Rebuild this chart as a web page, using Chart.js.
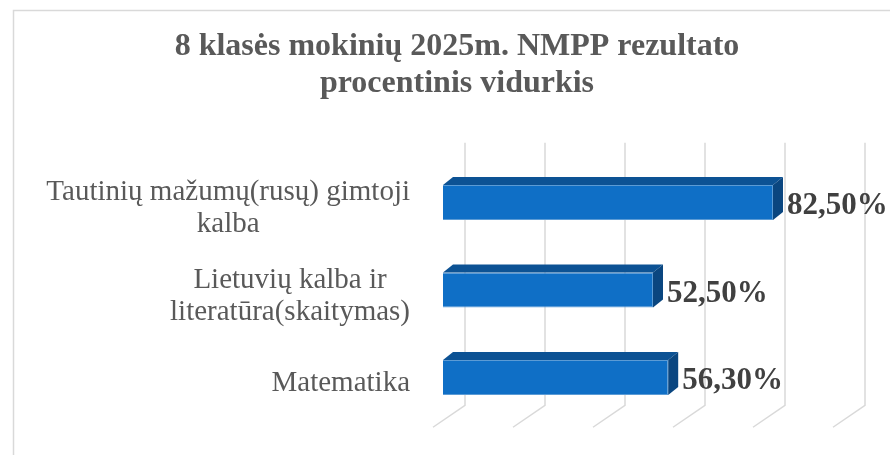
<!DOCTYPE html>
<html><head><meta charset="utf-8">
<script src="https://cdn.jsdelivr.net/npm/chart.js@4/dist/chart.umd.min.js"></script>
<style>html,body{margin:0;padding:0;background:#fff;}#wrap{width:890px;height:455px;position:relative;}</style>
</head><body><div id="wrap"><canvas id="c" width="890" height="455"></canvas></div>
<script>
const titleLines = ['8 klasės mokinių 2025m. NMPP rezultato', 'procentinis vidurkis'];
const categories = [['Tautinių mažumų(rusų) gimtoji', 'kalba'], ['Lietuvių kalba ir', 'literatūra(skaitymas)'], ['Matematika']];
const values = [82.5, 52.5, 56.3];
const valueLabels = ['82,50%', '52,50%', '56,30%'];
const xTicks = [0, 20, 40, 60, 80, 100];

const SERIF = "'Liberation Serif', 'Times New Roman', serif";
const DX = 10, DY = 8;          // bar depth
const WX = 22, WY = 16;         // back wall offset
const FX = -32, FY = 22;        // floor slant
const LABEL_GAP = 33, LABEL_LH = 32, LABEL_DY = 6;

const deco = {
  id: 'deco',
  beforeDraw(chart) {
    const ctx = chart.ctx;
    ctx.save();
    ctx.fillStyle = '#fff';
    ctx.fillRect(0, 0, chart.width, chart.height);
    ctx.strokeStyle = '#d9d9d9';
    ctx.lineWidth = 1.5;
    ctx.strokeRect(13.5, 10.5, chart.width + 20, chart.height + 20);
    ctx.restore();
  },
  beforeDatasetsDraw(chart) {
    const ctx = chart.ctx, xs = chart.scales.x, ys = chart.scales.y, a = chart.chartArea;
    ctx.save();
    ctx.strokeStyle = '#d9d9d9';
    ctx.lineWidth = 1.5;
    xTicks.forEach(v => {
      const xb = xs.getPixelForValue(v) + WX;
      const top = a.top - WY, bot = a.bottom - WY;
      ctx.beginPath();
      ctx.moveTo(xb, top);
      ctx.lineTo(xb, bot);
      ctx.lineTo(xb + FX, bot + FY);
      ctx.stroke();
    });
    // category labels: block right-aligned, lines centred within block
    ctx.font = '29px ' + SERIF;
    ctx.fillStyle = '#595959';
    ctx.textAlign = 'center';
    ctx.textBaseline = 'middle';
    const right = a.left - LABEL_GAP;
    categories.forEach((lines, i) => {
      const widest = Math.max(...lines.map(t => ctx.measureText(t).width));
      const cx = right - widest / 2;
      const cy = ys.getPixelForValue(i) + LABEL_DY;
      const y0 = cy - (lines.length - 1) * LABEL_LH / 2;
      lines.forEach((t, j) => ctx.fillText(t, cx, y0 + j * LABEL_LH));
    });
    ctx.restore();
  },
  afterDatasetsDraw(chart) {
    const ctx = chart.ctx;
    const meta = chart.getDatasetMeta(0);
    ctx.save();
    meta.data.forEach((el, i) => {
      const x = el.x, b = el.base, h = el.height;
      const yT = el.y - h / 2, yB = el.y + h / 2;
      ctx.fillStyle = '#0c5294';
      ctx.beginPath();
      ctx.moveTo(b, yT); ctx.lineTo(b + DX, yT - DY); ctx.lineTo(x + DX, yT - DY); ctx.lineTo(x, yT);
      ctx.closePath(); ctx.fill();
      ctx.fillStyle = '#0a4680';
      ctx.beginPath();
      ctx.moveTo(x, yT); ctx.lineTo(x + DX, yT - DY); ctx.lineTo(x + DX, yB - DY); ctx.lineTo(x, yB);
      ctx.closePath(); ctx.fill();
      ctx.fillStyle = '#404040';
      ctx.font = 'bold 31px ' + SERIF;
      ctx.textAlign = 'left';
      ctx.textBaseline = 'alphabetic';
      ctx.fillText(valueLabels[i], x + DX + 4, el.y + 12);
    });
    ctx.restore();
  }
};

function zeroPad(s) { s.paddingTop = 0; s.paddingBottom = 0; }

new Chart(document.getElementById('c'), {
  type: 'bar',
  data: {
    labels: categories,
    datasets: [{
      data: values,
      backgroundColor: '#0f6fc6',
      borderColor: '#5b9bd5',
      borderWidth: 1,
      barPercentage: 0.4,
      categoryPercentage: 1.0
    }]
  },
  options: {
    indexAxis: 'y',
    responsive: false,
    animation: false,
    devicePixelRatio: 1,
    layout: { padding: { left: 24, right: 0, top: 0, bottom: 33.75 } },
    plugins: {
      legend: { display: false },
      tooltip: { enabled: false },
      title: {
        display: true,
        text: titleLines,
        color: '#595959',
        font: { family: SERIF, size: 32, weight: 'bold', lineHeight: 1.156 },
        padding: { top: 28.7, bottom: 56.05 }
      }
    },
    scales: {
      x: { display: false, min: 0, max: 100, grid: { display: false } },
      y: {
        display: true,
        grid: { display: false, drawTicks: false },
        border: { display: false },
        ticks: { display: false },
        afterFit(s) { s.width = 443 - 24; zeroPad(s); }
      },
      y2: {
        type: 'category',
        position: 'right',
        display: true,
        grid: { display: false, drawTicks: false },
        border: { display: false },
        ticks: { display: false },
        afterFit(s) { s.width = 47; zeroPad(s); }
      }
    }
  },
  plugins: [deco]
});
</script>
</body></html>
